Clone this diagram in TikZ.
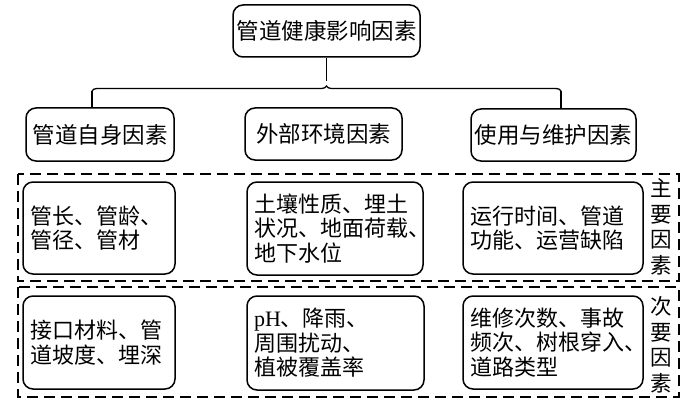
\documentclass[tikz,border=0pt]{standalone}
\usepackage{fontspec}
\setmainfont{Liberation Serif}
\newfontfamily\cjk{Noto Sans CJK SC}
\usetikzlibrary{decorations.pathreplacing}
\begin{document}
\begin{tikzpicture}[x=1pt,y=-1pt,
  box/.style={draw, line width=1.5pt, rounded corners=10pt, inner sep=0pt,
    font=\cjk\fontsize{22}{24.5}\selectfont},
  headbox/.style={box, font=\cjk\fontsize{22.5}{26}\selectfont},
  txtbox/.style={box, align=left, inner xsep=7pt},
  dashbox/.style={draw, line width=1.4pt, dash pattern=on 11pt off 6pt},
  side/.style={align=center, inner sep=0pt, font=\cjk\fontsize{21.5}{25.5}\selectfont},
  link/.style={line width=1.3pt}]
\useasboundingbox (0,0) rectangle (692,406);
% title
\node[headbox, minimum width=187pt, minimum height=52pt] (top) at (326.5,31) {管道健康影响因素};
% headings
\node[headbox, minimum width=148pt, minimum height=53pt] (h1) at (100,134.5) {管道自身因素};
\node[headbox, minimum width=157pt, minimum height=52pt] (h2) at (323.5,134) {外部环境因素};
\node[headbox, minimum width=165pt, minimum height=52pt] (h3) at (553.5,135) {使用与维护因素};
% connectors
\coordinate (bl) at (92,91);
\coordinate (br) at (561,91);
\coordinate (tip) at (326.5,81);
\draw[link, decorate, decoration={brace, amplitude=5pt}] (bl) -- (br);
\draw[link] (top.south) -- (tip);
\draw[link] (bl) -- (bl |- h1.north);
\draw[link] (br) -- (br |- h3.north);
% dashed groups
\draw[dashbox] (18,174) rectangle (679,281);
\draw[dashbox] (18,287) rectangle (679,397);
% primary factors
\node[txtbox, minimum width=152pt, minimum height=92pt, text width=138pt] (a1) at (99,228) {管长、管龄、\\管径、管材};
\node[txtbox, minimum width=176pt, minimum height=93pt, text width=162pt] (a2) at (335,228.5) {土壤性质、埋土\\状况、地面荷载、\\地下水位};
\node[txtbox, minimum width=180pt, minimum height=92pt, text width=166pt] (a3) at (553,228) {运行时间、管道\\功能、运营缺陷};
% secondary factors
\node[txtbox, minimum width=152pt, minimum height=93pt, text width=138pt] (b1) at (99,342.5) {接口材料、管\\道坡度、埋深};
\node[txtbox, minimum width=177pt, minimum height=94pt, text width=163pt] (b2) at (335.5,343) {\textrm{pH}、降雨、\\周围扰动、\\植被覆盖率};
\node[txtbox, minimum width=180pt, minimum height=93pt, text width=166pt] (b3) at (553,342.5) {维修次数、事故\\频次、树根穿入、\\道路类型};
% side labels
\node[side] (s1) at (661,227) {主\\要\\因\\素};
\node[side] (s2) at (661,345) {次\\要\\因\\素};
\end{tikzpicture}
\end{document}
